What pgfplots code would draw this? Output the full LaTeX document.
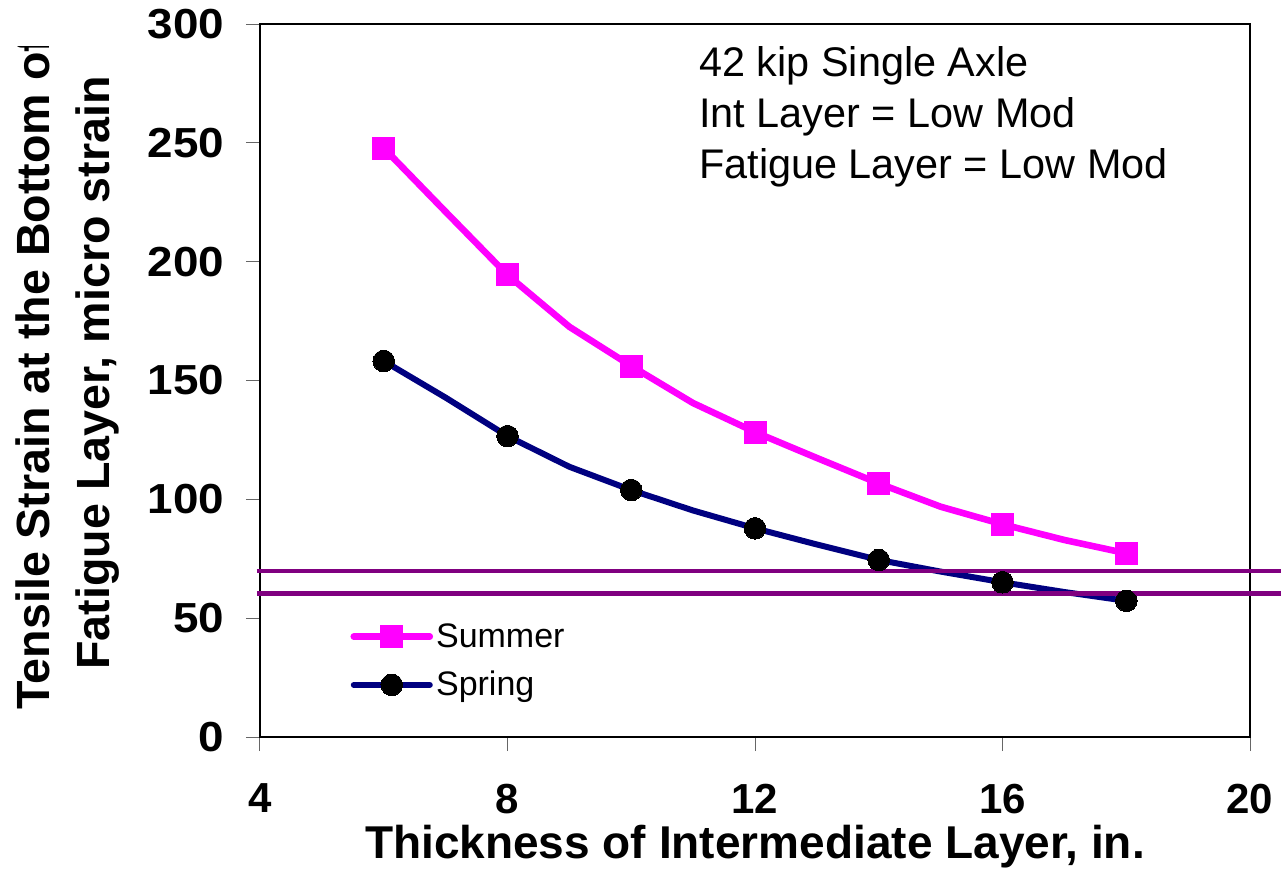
\documentclass[border=0pt]{standalone}
\usepackage{pgfplots}
\pgfplotsset{compat=1.18}
\usepackage{fontspec}
\setmainfont{Liberation Sans}
\definecolor{summercol}{RGB}{255,0,255}
\definecolor{springcol}{RGB}{0,0,128}
\definecolor{limitcol}{RGB}{128,0,128}
\begin{document}
\begin{tikzpicture}
\useasboundingbox (-130pt,-79pt) rectangle (510.5pt,368.5pt);
\begin{axis}[
  at={(0pt,0pt)}, anchor=south west,
  scale only axis, width=495pt, height=356.5pt,
  xmin=4, xmax=20, ymin=0, ymax=300,
  xtick={4,8,12,16,20}, ytick={0,50,100,150,200,250,300},
  xtick pos=bottom, ytick pos=left,
  tick align=outside, major tick length=7pt,
  tick style={line width=0.5pt, color=black!60},
  axis line style={line width=0.8pt, black},
  /pgf/number format/assume math mode=true,
  ticklabel style={font=\fontsize{21}{25}\selectfont\bfseries},
  yticklabel style={xscale=1.09},
  xticklabel shift=13pt, yticklabel shift=7pt,
  clip=false,
  legend style={draw=none, fill=none, at={(rel axis cs:0.091,0.1066)}, anchor=west,
    inner sep=0pt, font=\fontsize{17}{20}\selectfont, row sep=7.5pt,
    nodes={inner sep=1.5pt}},
  legend cell align=left,
  legend image code/.code={\draw[mark repeat=2,mark phase=2,line cap=round,#1] plot coordinates {(0pt,0pt)(19pt,0pt)(38pt,0pt)};},
]
\addplot[summercol, line width=3.3pt, mark=square*, mark size=5.5pt,
  mark repeat=2, mark options={solid, fill=summercol, draw=summercol, line width=0pt}]
  coordinates {(6,247.8)(7,221)(8,194.4)(9,172.6)(10,156.1)(11,140.5)(12,128.3)(13,117.4)(14,106.7)(15,96.9)(16,89.5)(17,82.9)(18,77.3)};
\addlegendentry{Summer}
\addplot[springcol, line width=3pt, mark=*, mark size=5.4pt,
  mark repeat=2, mark options={solid, fill=black, draw=black, line width=0pt}]
  coordinates {(6,158.2)(7,142.8)(8,126.6)(9,113.7)(10,103.9)(11,95.3)(12,87.8)(13,81)(14,74.5)(15,69.6)(16,65.1)(17,61)(18,57.3)};
\addlegendentry{Spring}
\addplot[limitcol, line width=2.2pt, forget plot] coordinates {(3.95,69.8)(20.6,69.8)};
\addplot[limitcol, line width=2.2pt, forget plot] coordinates {(3.95,60.4)(20.6,60.4)};
\end{axis}
\node[anchor=base, inner sep=0pt, font=\fontsize{23}{27}\selectfont\bfseries] at (247.5pt,-60.5pt) {Thickness of Intermediate Layer, in.};
\begin{scope}
\clip (-130pt,-79pt) rectangle (0pt,345pt);
\node[rotate=90, anchor=base, inner sep=0pt, font=\fontsize{23.3}{27}\selectfont\bfseries] at (-105pt,182pt) {Tensile Strain at the Bottom of};
\node[rotate=90, anchor=base, inner sep=0pt, font=\fontsize{23.3}{27}\selectfont\bfseries] at (-75pt,182pt) {Fatigue Layer, micro strain};
\end{scope}
\node[anchor=base west, inner sep=0pt, font=\fontsize{20.7}{24}\selectfont] at (219.5pt,330pt) {42 kip Single Axle};
\node[anchor=base west, inner sep=0pt, font=\fontsize{20.7}{24}\selectfont] at (219.5pt,304.5pt) {Int Layer = Low Mod};
\node[anchor=base west, inner sep=0pt, font=\fontsize{20.7}{24}\selectfont] at (219.5pt,279pt) {Fatigue Layer = Low Mod};
\end{tikzpicture}
\end{document}
